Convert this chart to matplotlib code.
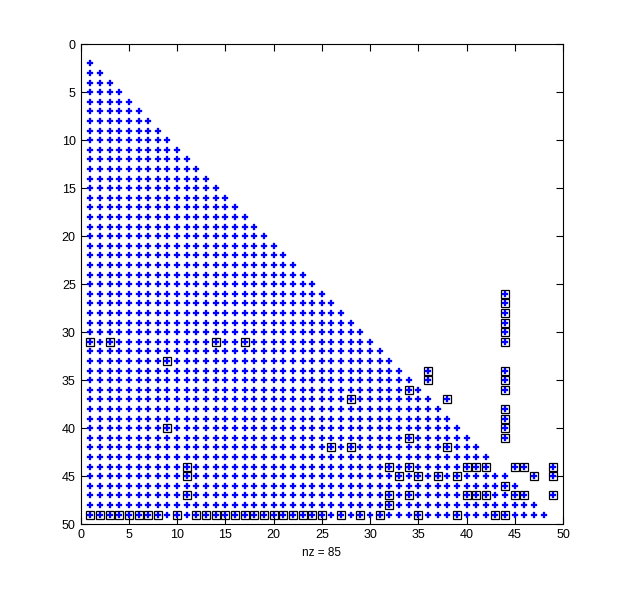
import matplotlib
matplotlib.use("Agg")
import matplotlib.pyplot as plt
import numpy as np

# matrix size and the one lower-triangle entry that is empty
n = 49
missing_rows = [44]
missing_cols = [43]

# nonzeros of the second matrix (drawn as squares), row / column indices
square_rows = [26, 27, 28, 29, 30,
               31, 31, 31, 31, 31,
               33,
               34, 34,
               35, 35,
               36, 36,
               37, 37,
               38, 39,
               40, 40,
               41, 41,
               42, 42, 42,
               44, 44, 44, 44, 44, 44, 44, 44, 44,
               45, 45, 45, 45, 45, 45, 45,
               46,
               47, 47, 47, 47, 47, 47, 47, 47, 47,
               48] + [49] * 30
square_cols = [44, 44, 44, 44, 44,
               1, 3, 14, 17, 44,
               9,
               36, 44,
               36, 44,
               34, 44,
               28, 38,
               44, 44,
               9, 44,
               34, 44,
               26, 28, 38,
               11, 32, 34, 40, 41, 42, 45, 46, 49,
               11, 33, 35, 37, 39, 47, 49,
               44,
               11, 32, 34, 40, 41, 42, 45, 46, 49,
               32,
               1, 2, 3, 4, 5, 6, 7, 8, 10,
               12, 13, 14, 15, 16, 17, 18, 19, 20, 21, 22, 23, 24, 25,
               27, 29, 31, 35, 39, 43, 44]

x_ticks = list(range(0, 51, 5))
y_ticks = list(range(0, 51, 5))


def main() -> None:
    plt.rcParams["font.family"] = ["Liberation Sans", "DejaVu Sans"]

    # blue pattern: strict lower triangle plus every square position
    pattern = np.tril(np.ones((n, n), dtype=bool), k=-1)
    for r, c in zip(missing_rows, missing_cols):
        pattern[r - 1, c - 1] = False
    for r, c in zip(square_rows, square_cols):
        pattern[r - 1, c - 1] = True
    dot_rows, dot_cols = np.nonzero(pattern)

    fig = plt.figure(figsize=(6.22, 5.92), dpi=100)
    ax = fig.add_axes([0.1297, 0.1144, 0.7754, 0.8108])

    ax.plot(np.array(square_cols), np.array(square_rows), linestyle="none",
            marker="s", markersize=5.3, markerfacecolor="none",
            markeredgecolor="black", markeredgewidth=0.9)
    ax.plot(dot_cols + 1, dot_rows + 1, linestyle="none", marker="P",
            markersize=4.0, color="blue", markeredgewidth=0.2)

    ax.set_xlim(0, n + 1)
    ax.set_ylim(n + 1, 0)
    ax.set_xticks(x_ticks)
    ax.set_yticks(y_ticks)
    ax.tick_params(direction="in", length=5, width=0.8, labelsize=9,
                   top=True, right=True, colors="black")
    for spine in ax.spines.values():
        spine.set_linewidth(0.8)

    ax.set_xlabel("nz = %d" % len(square_rows), fontsize=8.5, labelpad=4)

    fig.savefig("out.png", dpi=100, facecolor="white")


if __name__ == "__main__":
    main()
